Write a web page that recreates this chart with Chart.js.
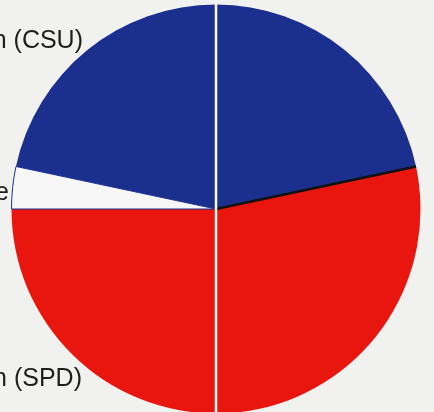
<!DOCTYPE html>
<html>
<head>
<meta charset="utf-8">
<script src="https://cdn.jsdelivr.net/npm/chart.js@4.4.1/dist/chart.umd.min.js"></script>
<style>
  html, body { margin: 0; padding: 0; background: #f1f1ef; overflow: hidden; }
  #wrap { position: relative; width: 434px; height: 418px; }
</style>
</head>
<body>
<div id="wrap"><canvas id="chart"></canvas></div>
<script>
// Sitzverteilung (13 / 16 / 1 von 30)
const parties = ['Christlich-Soziale Union (CSU)', 'Sozialdemokraten (SPD)', 'Parteilose'];
const seats = [13, 16, 1];
const colors = ['#1b2f8e', '#e8160f', '#f7f7f7'];

// Trennlinie (Buchfalz) und schwarze Kante zwischen CSU und SPD
const extras = {
  id: 'extras',
  afterDatasetsDraw(chart) {
    const ctx = chart.ctx;
    const arcs = chart.getDatasetMeta(0).data;
    const c = arcs[0];
    const r = c.outerRadius;
    ctx.save();
    // schwarze Linie an der Grenze CSU / SPD
    const a = arcs[1].startAngle;
    ctx.strokeStyle = '#111';
    ctx.lineWidth = 2.5;
    ctx.beginPath();
    ctx.moveTo(c.x, c.y);
    ctx.lineTo(c.x + r * Math.cos(a), c.y + r * Math.sin(a));
    ctx.stroke();
    // weisser Falz
    ctx.strokeStyle = '#fafafa';
    ctx.lineWidth = 2.5;
    ctx.beginPath();
    ctx.moveTo(c.x, c.y - r - 2);
    ctx.lineTo(c.x, c.y + r + 2);
    ctx.stroke();
    ctx.restore();
  },
};

// Beschriftungen links (vom Bildrand angeschnitten)
const labels = {
  id: 'labels',
  afterDraw(chart) {
    const ctx = chart.ctx;
    ctx.save();
    ctx.font = '25px "Liberation Sans", Arial, sans-serif';
    ctx.fillStyle = '#1e1e1e';
    ctx.textAlign = 'right';
    ctx.textBaseline = 'middle';
    ctx.fillText(parties[0], 83, 41);
    ctx.fillText(parties[2], 9, 193);
    ctx.fillText(parties[1], 82, 379);
    ctx.restore();
  },
};

new Chart(document.getElementById('chart'), {
  type: 'pie',
  data: {
    labels: parties,
    datasets: [
      {
        data: seats,
        backgroundColor: colors,
        borderColor: ['#1b2f8e', '#e8160f', '#1b2f8e'],
        borderWidth: [0, 0, 1],
        hoverOffset: 0,
      },
    ],
  },
  options: {
    responsive: true,
    maintainAspectRatio: false,
    animation: false,
    rotation: -78,
    layout: { padding: { left: 11, right: 13, top: 4, bottom: 4 } },
    plugins: {
      legend: { display: false },
      tooltip: { enabled: false },
    },
  },
  plugins: [extras, labels],
});
</script>
</body>
</html>
